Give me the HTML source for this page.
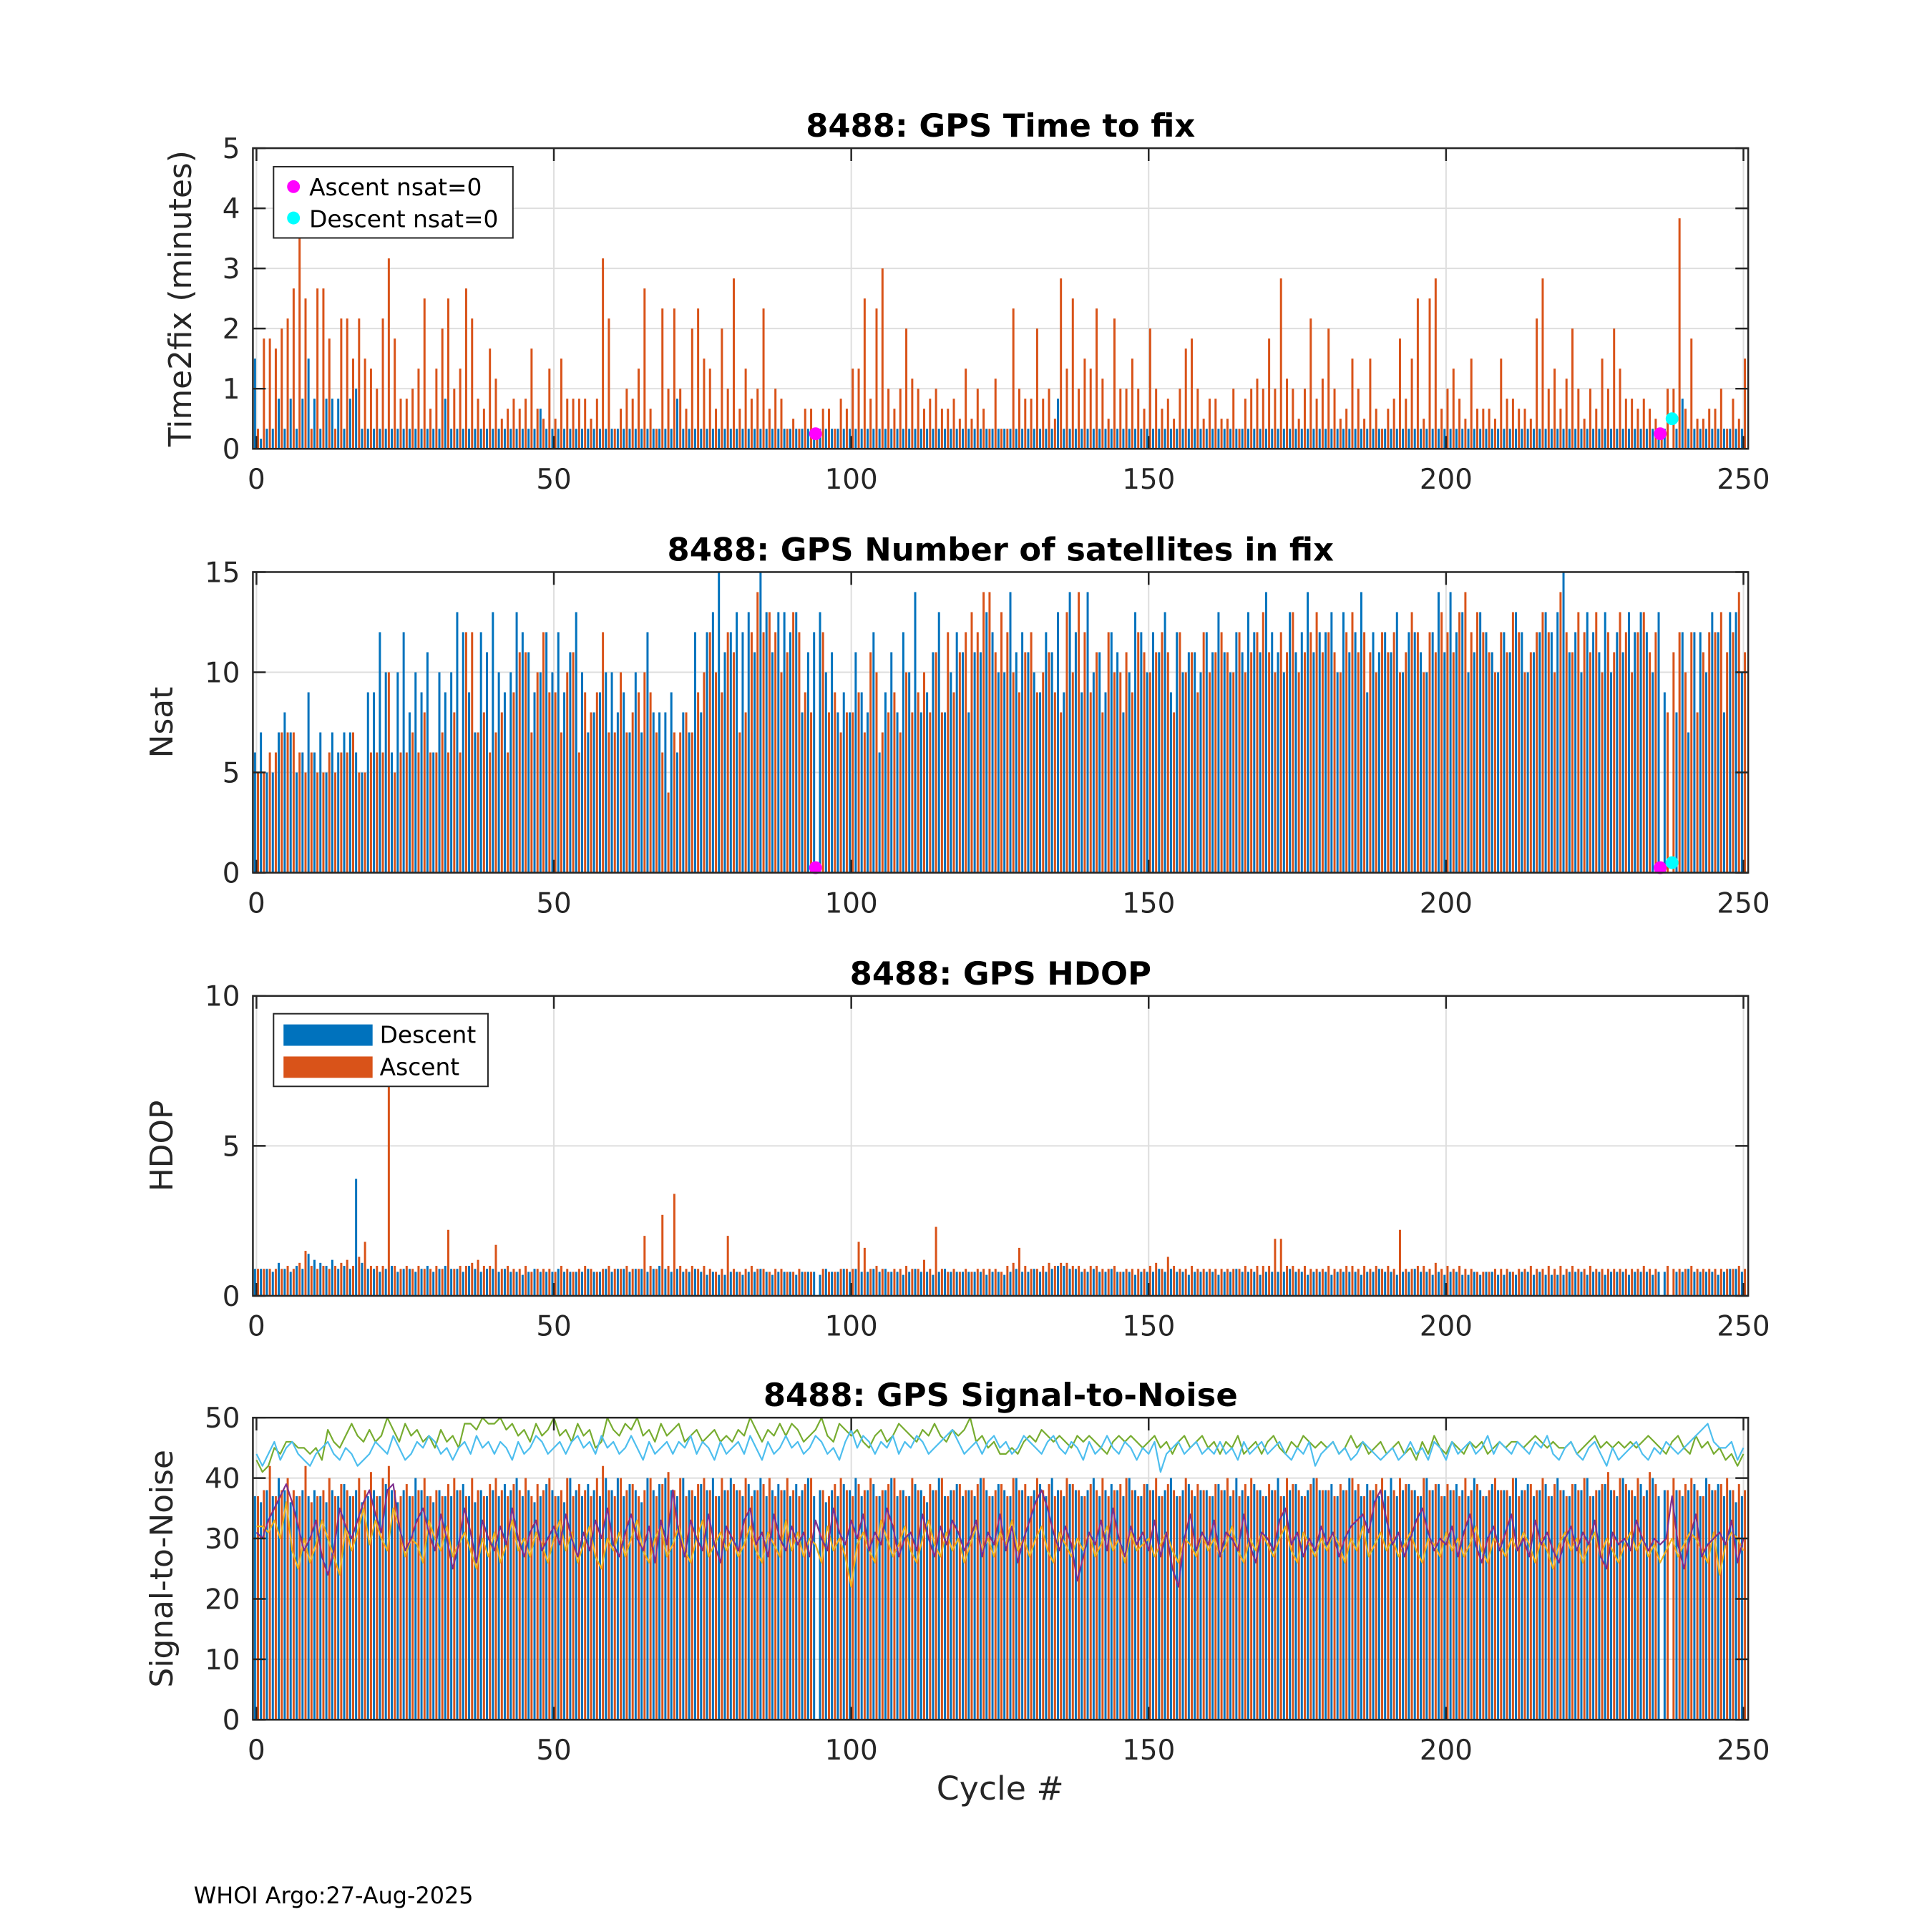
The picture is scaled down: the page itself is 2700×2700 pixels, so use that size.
<!DOCTYPE html>
<html><head><meta charset="utf-8"><style>
html,body{margin:0;padding:0;background:#fff;}
svg{display:block;font-family:"DejaVu Sans","Liberation Sans",sans-serif;}
</style></head><body>
<svg id="fig" width="2700" height="2700" viewBox="0 0 2712 2712">
<rect x="0" y="0" width="2712" height="2712" fill="#fff"/>
<text x="272" y="2672" font-size="32" fill="#000">WHOI Argo:27-Aug-2025</text>
<text x="1404" y="2526" font-size="46" text-anchor="middle" fill="#262626">Cycle #</text>
</svg>
<script>
const cycles = Array.from({length:251},(_, i)=>i);
// Time to fix (seconds)
const t2fDescent = [90,10,20,20,50,20,50,20,50,90, 50,20,50,50,50,20,50,60,20,20, 20,20,20,20,20,20,20,20,20,20, 20,20,50,20,20,20,20,20,20,20, 20,20,20,20,20,20,20,20,40,20, 20,20,20,20,20,20,20,20,20,20, 20,20,20,20,20,20,20,20,20,20, 20,50,20,20,20,20,20,20,20,20, 20,20,20,20,20,20,20,20,20,20, 20,20,20,20,20,20,20,20,20,20, 20,20,20,20,20,20,20,20,20,20, 20,20,20,20,20,20,20,20,20,20, 20,20,20,20,20,20,20,20,20,20, 20,20,20,20,20,50,20,20,20,20, 20,20,20,20,20,20,20,20,20,20, 20,20,20,20,20,20,20,20,20,20, 20,20,20,20,20,20,20,20,20,20, 20,20,20,20,20,20,20,20,20,20, 20,20,20,20,20,20,20,20,20,20, 20,20,20,20,20,20,20,20,20,20, 20,20,20,20,20,20,20,20,20,20, 20,20,20,20,20,20,20,20,20,20, 20,20,20,20,20,20,20,20,20,20, 20,20,20,20,20,20,20,20,0,20, 50,20,20,20,20,20,20,20,20,20,20];
const t2fAscent = [20,110,110,100,120,130,160,210,150,20, 160,160,110,20,130,130,90,130,90,80, 60,130,190,110,50,50,60,80,150,40, 80,120,150,60,80,160,130,50,40,100, 70,30,40,50,40,50,100,40,30,80, 30,90,50,50,50,50,30,50,190,130, 20,40,60,50,80,160,40,20,140,60, 140,60,40,120,140,90,80,40,120,60, 170,40,80,50,60,140,40,60,50,20, 30,20,40,40,15,40,40,20,50,40, 80,80,150,50,140,180,60,40,60,120, 70,60,40,50,60,40,40,50,30,80, 30,60,40,20,70,20,20,140,60,50, 50,120,50,60,30,170,80,150,60,90, 80,140,70,30,130,60,60,90,60,40, 120,60,40,50,30,60,100,110,60,30, 50,50,30,30,60,20,50,60,70,60, 110,60,170,70,60,30,60,130,50,70, 120,60,30,40,90,60,30,90,40,20, 40,50,110,50,90,150,30,150,170,40, 60,80,50,30,90,40,40,40,30,90, 50,50,40,40,30,130,170,60,80,40, 70,120,60,30,60,40,90,60,120,80, 50,50,40,50,40,30,15,60,60,230, 40,110,30,30,40,40,60,20,50,30,90];
const nsatDescent = [6,7,5,5,7,8,7,5,6,9, 6,7,5,7,6,7,7,6,5,9, 9,12,10,6,10,12,8,10,9,11, 6,10,9,10,13,12,9,7,12,11, 13,10,9,10,13,12,11,9,10,12, 10,12,9,11,13,10,7,8,9,10, 10,8,9,7,10,7,12,8,8,8, 9,6,8,7,12,8,12,13,15,11, 12,13,12,13,11,15,13,11,13,13, 12,13,8,11,12,13,10,11,8,9, 8,11,9,8,12,6,9,11,8,12, 10,14,8,9,11,13,8,10,12,11, 8,11,11,13,12,10,10,14,11,12, 11,10,9,12,11,13,9,14,12,9, 14,10,11,9,12,11,8,10,13,12, 10,12,11,13,9,12,10,11,11,10, 12,11,13,11,10,12,11,13,12,11, 14,12,11,10,13,11,12,14,11,12, 12,13,10,13,11,12,14,9,12,11, 12,11,13,10,12,12,11,10,12,14, 11,14,12,13,10,11,13,12,11,10, 12,11,13,12,10,11,12,13,12,13, 15,11,12,10,13,12,11,13,10,12, 11,13,12,13,12,10,13,9,0,8, 12,7,12,12,10,13,12,8,13,13,10];
const nsatAscent = [5,5,6,6,7,7,7,6,5,6, 5,5,6,5,6,6,7,5,5,6, 6,6,10,5,6,6,7,6,8,6, 6,7,6,8,6,12,12,7,8,6, 7,8,6,9,11,11,7,10,12,9, 9,7,10,11,6,9,8,9,12,7, 7,10,7,8,9,10,9,7,6,4, 7,7,8,7,9,10,12,10,9,12, 11,7,8,12,14,12,13,12,10,11, 13,12,9,8,0,12,8,9,7,8, 8,9,7,11,10,7,8,9,7,10, 8,9,10,8,11,8,12,9,11,12, 13,12,14,14,11,13,12,10,9,11, 12,9,10,11,9,8,13,10,14,12, 9,11,8,12,10,10,11,9,12,11, 10,11,12,11,8,12,10,11,9,12, 10,11,12,11,10,12,10,11,12,13, 11,10,12,11,13,10,11,12,13,11, 12,11,10,12,13,11,12,11,10,12, 11,12,10,11,13,12,10,12,11,13, 12,11,13,14,12,13,12,11,10,12, 11,13,12,10,11,12,13,12,10,14, 12,11,13,12,11,13,10,12,11,13, 12,10,12,13,11,12,0,8,11,12, 10,12,8,11,12,12,13,11,12,14,11];
// HDOP in tenths
const hdopDescent = [9,9,9,8,11,9,8,10,9,14, 12,11,10,12,9,10,9,39,11,9, 9,8,9,10,8,9,9,8,9,10, 8,9,10,9,9,8,10,9,8,9, 9,8,9,8,8,7,8,9,8,8, 8,9,8,8,8,8,9,8,8,9, 8,9,9,8,9,9,8,9,10,9, 8,9,8,8,9,8,7,8,7,7, 8,8,7,8,8,9,8,7,8,8, 8,7,8,8,8,7,9,8,8,9, 8,9,8,8,9,8,9,8,8,7, 8,9,8,8,7,8,9,8,8,8, 8,8,8,7,8,8,7,8,9,8, 8,9,8,8,9,10,10,9,9,8, 8,9,8,8,9,8,8,8,7,8, 8,8,9,8,9,8,8,7,8,8, 8,8,7,8,8,9,8,8,8,7, 8,8,8,8,9,8,8,7,8,8, 8,7,8,8,8,8,7,8,8,9, 8,8,7,8,8,9,8,8,7,8, 7,8,8,7,7,8,7,8,8,7, 7,8,7,8,8,7,8,7,7,7, 7,8,8,8,7,8,8,7,8,8, 8,7,8,8,8,7,8,8,0,8, 8,9,8,8,8,8,7,8,9,9,8];
const hdopAscent = [9,9,9,9,9,10,9,11,15,10, 9,10,9,10,11,12,10,13,18,10, 10,10,70,10,9,10,9,10,9,9, 10,9,22,9,10,10,11,12,10,10, 17,9,10,9,9,10,8,9,9,9, 8,10,9,8,9,10,9,8,9,10, 9,9,10,9,9,20,10,9,27,10, 34,10,9,10,9,10,9,8,9,20, 9,8,9,10,9,9,8,9,9,8, 8,9,8,8,0,9,8,8,9,9, 9,18,16,9,10,9,8,9,9,10, 9,9,12,9,23,9,8,9,8,9, 8,9,9,9,9,8,10,11,16,10, 9,9,10,11,10,11,11,10,10,9, 10,10,9,9,10,8,9,9,9,9, 10,11,9,13,10,9,9,10,9,9, 9,9,9,9,9,9,10,9,10,10, 10,19,19,10,10,9,10,9,9,9, 10,9,9,10,10,9,10,9,10,9, 10,9,22,9,9,10,10,9,11,9, 10,9,10,9,9,8,8,8,9,9, 9,8,9,9,10,9,9,10,9,10, 9,10,9,9,10,9,9,9,9,9, 9,9,9,10,9,9,0,10,9,9, 9,10,9,9,9,9,9,9,9,10,9];
const snrDescent = [37,36,38,37,40,38,36,37,38,37, 38,37,36,38,37,39,37,38,36,37, 38,37,39,38,36,38,37,40,38,37, 36,38,37,37,38,39,37,36,38,37, 38,37,39,38,40,37,38,36,37,39, 38,37,36,40,38,37,39,38,37,40, 38,40,37,39,38,36,40,38,39,40, 38,37,40,38,37,39,38,40,37,38, 40,38,37,39,38,40,37,38,39,38, 37,39,38,40,37,38,36,38,37,39, 38,40,37,38,39,37,38,40,37,38, 37,39,38,36,38,40,37,38,39,37, 38,37,40,38,37,39,38,37,40,38, 37,38,39,37,40,38,37,39,38,37, 38,40,37,38,39,38,37,40,38,37, 39,38,37,38,40,37,38,39,37,38, 38,37,39,38,37,40,38,37,39,38, 37,38,40,37,38,39,37,38,40,38, 38,39,37,38,40,38,37,39,38,37, 38,40,37,38,39,38,37,40,38,39, 37,38,39,38,37,40,38,37,39,38, 38,37,40,38,39,37,38,39,37,40, 38,37,39,38,40,37,38,39,38,37, 40,38,37,39,38,40,37,38,0,38, 37,38,39,37,40,38,39,37,38,36,37];
const snrAscent = [37,38,42,37,38,40,38,37,42,36, 37,38,40,37,39,38,37,40,38,41, 37,40,42,38,37,39,37,38,40,37, 38,37,39,40,38,37,40,38,37,39, 40,38,37,39,38,40,37,39,38,40, 37,38,40,37,39,38,37,40,42,38, 37,40,38,39,37,38,40,37,39,41, 38,40,37,38,39,40,38,37,40,38, 39,38,40,37,38,39,40,37,38,40, 38,37,39,40,0,38,37,39,40,38, 37,39,38,40,37,38,39,40,38,37, 40,38,37,39,38,40,37,38,39,38, 38,39,40,37,38,39,37,40,38,39, 37,40,38,39,37,38,40,39,38,37, 39,38,40,37,38,39,40,38,37,39, 38,40,37,39,38,37,40,38,39,38, 37,39,38,40,38,37,39,40,38,37, 39,38,37,40,39,38,37,39,40,38, 38,37,39,38,40,39,37,38,39,40, 37,38,40,39,38,37,40,38,39,37, 39,38,37,40,38,39,37,38,40,38, 38,40,37,38,39,38,40,37,39,38, 37,39,38,40,37,38,39,41,38,40, 39,38,40,37,41,39,0,38,40,38, 39,40,38,37,39,38,39,40,38,39,38];
const snrGreen = [43,41,42,45,44,46,46,45,45,44, 45,43,48,46,45,47,49,47,46,48, 46,47,50,48,46,49,47,48,46,47, 45,48,46,47,45,49,49,48,50,49, 49,50,48,49,47,48,46,49,47,48, 50,47,48,46,49,47,48,45,46,50, 48,47,49,48,50,47,48,46,49,47, 48,49,46,47,48,46,47,48,46,47, 46,48,47,50,48,46,48,47,49,47, 49,48,46,47,48,50,47,46,49,48, 47,48,46,45,47,48,46,47,49,48, 47,46,48,47,49,47,46,48,47,48, 50,46,47,45,46,44,44,45,44,46, 47,46,48,47,46,47,46,45,47,46, 47,46,45,44,46,47,46,47,46,45, 46,47,45,46,44,46,47,45,46,47, 45,46,44,46,45,47,44,45,46,44, 46,47,45,44,46,45,47,46,45,46, 45,46,44,45,47,45,46,44,45,46, 44,45,46,44,45,43,46,44,47,45, 44,46,45,44,46,45,46,44,45,46, 45,46,46,45,46,47,46,45,46,45, 45,46,44,45,46,47,45,46,45,46, 45,46,45,46,47,46,45,44,46,47, 45,44,47,45,46,44,45,43,44,42,44];
const snrLightBlue = [44,42,44,46,43,45,46,44,43,42, 44,45,46,44,43,45,44,42,43,44, 46,45,44,47,45,43,44,46,45,47, 46,44,45,43,45,46,44,47,45,46, 44,46,45,43,46,44,45,47,46,44, 45,46,44,46,47,45,46,44,47,45, 46,44,45,47,45,43,46,44,45,46, 44,46,45,47,44,46,45,43,46,44, 45,46,44,47,45,43,46,44,45,47, 45,46,44,45,47,46,44,45,43,46, 48,45,47,46,44,46,45,47,44,46, 45,47,46,44,45,46,47,48,46,44, 45,46,44,46,47,45,46,44,45,47, 46,45,44,46,47,45,44,46,45,43, 46,44,45,47,45,44,46,45,43,45, 44,46,41,44,45,46,44,45,46,44, 45,44,46,44,45,43,46,44,45,46, 44,45,46,44,43,45,44,46,42,44, 45,46,44,45,43,44,46,45,44,43, 44,45,43,44,46,44,45,43,46,45, 43,46,44,45,46,44,45,47,44,46, 45,44,46,45,44,46,45,47,44,43, 45,46,44,43,45,46,44,42,45,43, 44,45,46,44,43,45,44,46,45,44, 45,46,47,48,49,46,45,45,46,43,45];
const snrPurple = [31,30,33,35,37,39,36,32,28,30, 33,27,24,28,35,32,30,33,36,38, 34,31,38,39,32,28,30,33,35,31, 28,34,30,25,29,35,31,26,33,30, 28,32,29,35,30,27,31,33,28,30, 32,29,34,30,27,31,28,33,30,35, 29,27,31,34,30,28,32,26,33,29, 38,31,27,33,30,28,34,29,26,32, 30,28,33,35,29,31,27,34,30,28, 32,29,31,27,33,30,28,35,31,29, 33,30,34,28,31,29,35,32,27,30, 31,28,34,30,27,32,29,33,31,28, 30,33,27,31,29,34,28,32,26,30, 33,36,38,35,31,28,32,29,23,27, 31,29,33,28,35,30,27,32,29,31, 28,33,27,31,25,22,30,34,28,31, 29,33,27,31,30,28,34,29,26,31, 30,28,33,35,29,31,27,30,28,32, 29,31,27,30,32,33,34,31,36,38, 33,29,31,27,30,33,35,31,28,30, 29,32,27,31,34,29,26,30,32,28, 31,34,28,30,27,33,29,31,28,26, 30,32,28,31,29,33,27,25,31,29, 30,28,33,30,28,30,29,30,37,29, 25,30,34,27,29,30,31,29,33,26,30];
const snrYellow = [32,32,31,33,30,36,28,25,30,26, 29,33,30,27,24,32,28,31,35,29, 33,30,28,35,32,27,30,29,26,33, 30,28,32,27,29,31,28,25,30,27, 31,26,29,33,28,30,27,31,29,26, 30,33,28,31,26,29,32,27,25,30, 28,31,27,30,33,28,26,30,32,27, 29,32,28,26,30,33,27,29,31,28, 30,27,29,32,28,26,31,29,27,33, 28,31,27,30,29,26,32,28,30,27, 22,29,31,28,26,33,30,27,29,32, 28,26,30,33,29,27,31,28,30,26, 29,32,28,30,27,31,29,33,28,30, 27,30,32,28,26,31,29,27,30,28, 31,27,29,32,28,30,26,31,28,29, 30,27,29,31,28,26,30,29,27,31, 28,30,27,29,32,28,26,30,28,31, 29,27,30,32,28,26,31,29,27,30, 28,31,29,26,30,28,32,27,29,31, 28,30,27,29,31,28,26,30,29,27, 31,28,30,27,29,32,28,26,30,29, 27,30,28,31,29,26,30,28,25,29, 31,28,30,26,29,31,27,30,28,26, 29,31,28,30,27,29,26,28,30,27, 29,31,30,28,26,31,24,29,31,30,28];
const ascentZeroCycles = [94, 236];
const ascentZeroT2f = [0.25, 0.25];
const descentZeroCycles = [238];
const descentZeroT2f = [0.5];
const xTicks = [0,50,100,150,200,250];

const NS = "http://www.w3.org/2000/svg";
const svg = document.getElementById('fig');
const L = 355, R = 2454, XMIN = -0.6, XMAX = 250.8;
function xs(v){ return L + (v - XMIN) / (XMAX - XMIN) * (R - L); }
function mk(tag, attrs, parent){ const e = document.createElementNS(NS, tag); for (const k in attrs) e.setAttribute(k, attrs[k]); (parent||svg).appendChild(e); return e; }
const BLUE = "#0072BD", ORANGE = "#D95319";

function panel(key, top, bottom, ymax, yticks, title, ylabel, ylabelX){
  const g = mk('g', {});
  
  
  const ys = v => bottom - v / ymax * (bottom - top);
  yticks.forEach(t => { const ln = mk('line', {x1:L, x2:R, y1:ys(t), y2:ys(t), stroke:'#dedede', 'stroke-width':2}, g);
    
     });
  xTicks.forEach(t => { const ln = mk('line', {x1:xs(t), x2:xs(t), y1:top, y2:bottom, stroke:'#dedede', 'stroke-width':2}, g);
    
     });
  const tl = mk('text', {x:(L+R)/2, y:top-16, 'font-size':45, 'font-weight':'bold', 'text-anchor':'middle', fill:'#000'}, g);
  tl.textContent = title;
  
  
  const yl = mk('text', {x:ylabelX, y:(top+bottom)/2, 'font-size':44, 'text-anchor':'middle', fill:'#262626', transform:`rotate(-90 ${ylabelX} ${(top+bottom)/2})`}, g);
  yl.textContent = ylabel;
  
  
  return {g, ys};
}
function frame(key, g, top, bottom, ys, yticks){
  const f = mk('rect', {x:L, y:top, width:R-L, height:bottom-top, fill:'none', stroke:'#262626', 'stroke-width':2.5}, g);
  
  
  yticks.forEach(t => {
    const y = ys(t);
    mk('line', {x1:L, x2:L+18, y1:y, y2:y, stroke:'#262626', 'stroke-width':2.5}, g);
    mk('line', {x1:R-18, x2:R, y1:y, y2:y, stroke:'#262626', 'stroke-width':2.5}, g);
    const tx = mk('text', {x:L-18, y:y+14, 'font-size':39, 'text-anchor':'end', fill:'#262626'}, g);
    tx.textContent = t;
    
    
  });
  xTicks.forEach(t => {
    const x = xs(t);
    mk('line', {x1:x, x2:x, y1:bottom, y2:bottom-18, stroke:'#262626', 'stroke-width':2.5}, g);
    mk('line', {x1:x, x2:x, y1:top, y2:top+18, stroke:'#262626', 'stroke-width':2.5}, g);
    const tx = mk('text', {x:x, y:bottom+56, 'font-size':39, 'text-anchor':'middle', fill:'#262626'}, g);
    tx.textContent = t;
    
    
  });
}
function bars(key, g, ys, d, a, scale){
  cycles.forEach((c, i) => {
    if (d[i] > 0) { const b = mk('rect', {x:xs(c)-3.6, y:ys(d[i]*scale), width:3, height:ys(0)-ys(d[i]*scale), fill:BLUE}, g);
      
       }
    if (a[i] > 0) { const b = mk('rect', {x:xs(c)+0.6, y:ys(a[i]*scale), width:3, height:ys(0)-ys(a[i]*scale), fill:ORANGE}, g);
      
       }
  });
}
function markers(key, g, ys, cs, vs, color, name){
  cs.forEach((c, i) => { const m = mk('circle', {cx:xs(c), cy:ys(vs[i]), r:9, fill:color}, g);
    
     });
}

// Panel 1
let P = panel('time2fix', 208, 630, 5, [0,1,2,3,4,5], '8488: GPS Time to fix', 'Time2fix (minutes)', 268);
bars('time2fix', P.g, P.ys, t2fDescent, t2fAscent, 1/60);
markers('time2fix', P.g, P.ys, ascentZeroCycles, ascentZeroT2f, '#FF00FF', 'ascent-nsat0-marker');
markers('time2fix', P.g, P.ys, descentZeroCycles, descentZeroT2f, '#00FFFF', 'descent-nsat0-marker');
frame('time2fix', P.g, 208, 630, P.ys, [0,1,2,3,4,5]);
{
  const lg = mk('g', {});
  
  
  mk('rect', {x:384, y:234, width:336, height:100, fill:'#fff', stroke:'#262626', 'stroke-width':2}, lg);
  mk('circle', {cx:412, cy:262, r:9, fill:'#FF00FF'}, lg);
  mk('circle', {cx:412, cy:306, r:9, fill:'#00FFFF'}, lg);
  const t1 = mk('text', {x:434, y:274, 'font-size':33, fill:'#000'}, lg); t1.textContent = 'Ascent nsat=0';
  
  
  const t2 = mk('text', {x:434, y:319, 'font-size':33, fill:'#000'}, lg); t2.textContent = 'Descent nsat=0';
  
  
}

// Panel 2
P = panel('nsat', 803, 1225, 15, [0,5,10,15], '8488: GPS Number of satellites in fix', 'Nsat', 242);
bars('nsat', P.g, P.ys, nsatDescent, nsatAscent, 1);
markers('nsat', P.g, P.ys, ascentZeroCycles, ascentZeroT2f, '#FF00FF', 'ascent-nsat0-marker');
markers('nsat', P.g, P.ys, descentZeroCycles, descentZeroT2f, '#00FFFF', 'descent-nsat0-marker');
frame('nsat', P.g, 803, 1225, P.ys, [0,5,10,15]);

// Panel 3
P = panel('hdop', 1398, 1819, 10, [0,5,10], '8488: GPS HDOP', 'HDOP', 242);
bars('hdop', P.g, P.ys, hdopDescent, hdopAscent, 0.1);
frame('hdop', P.g, 1398, 1819, P.ys, [0,5,10]);
{
  const lg = mk('g', {});
  
  
  mk('rect', {x:384, y:1423, width:301, height:102, fill:'#fff', stroke:'#262626', 'stroke-width':2}, lg);
  mk('rect', {x:398, y:1438, width:125, height:30, fill:BLUE}, lg);
  mk('rect', {x:398, y:1483, width:125, height:30, fill:ORANGE}, lg);
  const t1 = mk('text', {x:533, y:1464, 'font-size':33, fill:'#000'}, lg); t1.textContent = 'Descent';
  
  
  const t2 = mk('text', {x:533, y:1509, 'font-size':33, fill:'#000'}, lg); t2.textContent = 'Ascent';
  
  
}

// Panel 4
P = panel('snr', 1990, 2414, 50, [0,10,20,30,40,50], '8488: GPS Signal-to-Noise', 'Signal-to-Noise', 242);
bars('snr', P.g, P.ys, snrDescent, snrAscent, 1);
function line(key, g, ys, vals, color, name){
  const pts = cycles.map((c, i) => xs(c).toFixed(1) + ',' + ys(vals[i]).toFixed(1)).join(' ');
  const pl = mk('polyline', {points:pts, fill:'none', stroke:color, 'stroke-width':2.2, 'stroke-linejoin':'round'}, g);
  
  
}
line('snr', P.g, P.ys, snrGreen, '#77AC30', 'green-line');
line('snr', P.g, P.ys, snrLightBlue, '#4DBEEE', 'lightblue-line');
line('snr', P.g, P.ys, snrYellow, '#EDB120', 'yellow-line');
line('snr', P.g, P.ys, snrPurple, '#7E2F8E', 'purple-line');
frame('snr', P.g, 1990, 2414, P.ys, [0,10,20,30,40,50]);
</script>
</body></html>
